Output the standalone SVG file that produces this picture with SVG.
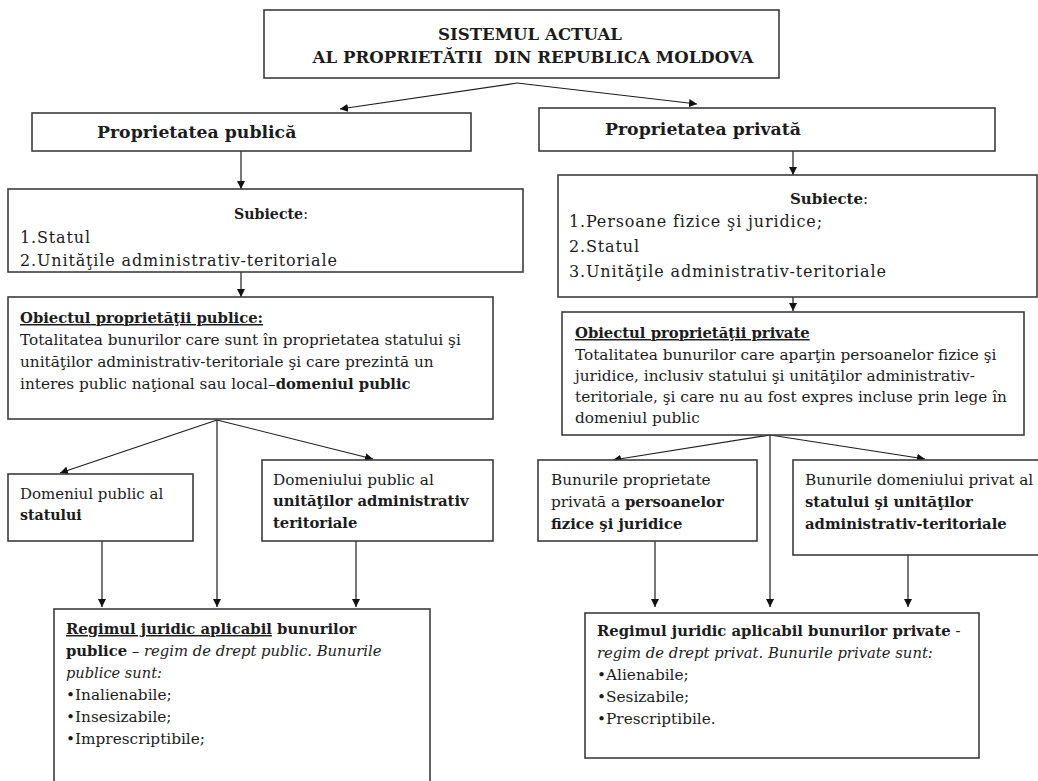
<svg xmlns="http://www.w3.org/2000/svg" width="1038" height="781" viewBox="0 0 1038 781">
  <defs>
    <marker id="ah" viewBox="0 0 10 10" refX="10" refY="5" markerWidth="8" markerHeight="8" markerUnits="userSpaceOnUse" orient="auto">
      <path d="M0,0 L10,5 L0,10 Z" fill="#111"/>
    </marker>
    <style>
      .box{fill:#fff;stroke:#3c3c3c;stroke-width:1.6}
      .t{font-family:"DejaVu Serif","Liberation Serif",serif;font-size:15.3px;fill:#1c1c1c}
      .title{font-size:16.6px;font-weight:bold}
      .h{font-size:17.3px;font-weight:bold}
      .sub{font-size:16px;letter-spacing:0.85px}
      .b{font-weight:bold}
      .bh{font-weight:bold;font-size:14.8px}
      .bs{font-weight:bold;font-size:14.8px}
      .i{font-style:italic}
      .u{text-decoration:underline}
      .c{stroke:#1e1e1e;stroke-width:1.2;fill:none;marker-end:url(#ah)}
    </style>
  </defs>
  <rect width="1038" height="781" fill="#fff"/>

  <!-- connectors -->
  <g id="connectors">
    <line class="c" x1="517" y1="83" x2="340" y2="109"/>
    <line class="c" x1="517" y1="83" x2="697" y2="104"/>
    <line class="c" x1="241" y1="151" x2="241" y2="189"/>
    <line class="c" x1="241" y1="259" x2="241" y2="297"/>
    <line class="c" x1="217" y1="420" x2="60" y2="473"/>
    <line class="c" x1="217" y1="420" x2="217" y2="607"/>
    <line class="c" x1="217" y1="420" x2="373" y2="459"/>
    <line class="c" x1="102" y1="541" x2="102" y2="607"/>
    <line class="c" x1="356" y1="541" x2="356" y2="607"/>
    <line class="c" x1="793" y1="151" x2="793" y2="175"/>
    <line class="c" x1="793" y1="273" x2="793" y2="311"/>
    <line class="c" x1="770" y1="435" x2="613" y2="460"/>
    <line class="c" x1="770" y1="435" x2="770" y2="607"/>
    <line class="c" x1="770" y1="435" x2="925" y2="459"/>
    <line class="c" x1="655" y1="541" x2="655" y2="607"/>
    <line class="c" x1="908" y1="555" x2="908" y2="607"/>
  </g>

  <!-- title -->
  <g id="sistem">
    <rect class="box" x="264" y="10" width="515" height="68"/>
    <text class="t title" x="530" y="40" text-anchor="middle">SISTEMUL ACTUAL</text>
    <text class="t title" x="533" y="63" text-anchor="middle">AL PROPRIETĂTII&#160; DIN REPUBLICA MOLDOVA</text>
  </g>

  <g id="publica">
    <rect class="box" x="32" y="113" width="439" height="38"/>
    <text class="t h" x="97" y="138">Proprietatea publică</text>
  </g>

  <g id="privata">
    <rect class="box" x="539" y="108" width="456" height="43"/>
    <text class="t h" x="605" y="135">Proprietatea privată</text>
  </g>

  <g id="subiecte-publice">
    <rect class="box" x="8" y="189" width="515" height="83"/>
    <text class="t" x="234" y="219" style="font-size:14.2px"><tspan class="b">Subiecte</tspan>:</text>
    <text class="t sub" x="20" y="243">1.Statul</text>
    <text class="t sub" x="20" y="266">2.Unităţile administrativ-teritoriale</text>
  </g>

  <g id="subiecte-private">
    <rect class="box" x="558" y="175" width="479" height="122"/>
    <text class="t" x="790" y="204" style="font-size:15px"><tspan class="b">Subiecte</tspan>:</text>
    <text class="t sub" x="569" y="227">1.Persoane fizice şi juridice;</text>
    <text class="t sub" x="569" y="252">2.Statul</text>
    <text class="t sub" x="569" y="277">3.Unităţile administrativ-teritoriale</text>
  </g>

  <g id="obiect-public">
    <rect class="box" x="8" y="297" width="485" height="122"/>
    <text class="t bh u" x="20" y="323">Obiectul proprietăţii publice:</text>
    <text class="t" x="20" y="345">Totalitatea bunurilor care sunt în proprietatea statului şi</text>
    <text class="t" x="20" y="367">unităţilor administrativ-teritoriale şi care prezintă un</text>
    <text class="t" x="20" y="389">interes public naţional sau local–<tspan class="b" style="font-size:14.8px">domeniul public</tspan></text>
  </g>

  <g id="obiect-privat">
    <rect class="box" x="562" y="312" width="462" height="123"/>
    <text class="t bh u" x="575" y="338">Obiectul proprietăţii private</text>
    <text class="t" x="575" y="360">Totalitatea bunurilor care aparţin persoanelor fizice şi</text>
    <text class="t" x="575" y="381">juridice, inclusiv statului şi unităţilor administrativ-</text>
    <text class="t" x="575" y="402">teritoriale, şi care nu au fost expres incluse prin lege în</text>
    <text class="t" x="575" y="423">domeniul public</text>
  </g>

  <g id="domeniu-stat">
    <rect class="box" x="8" y="474" width="185" height="67"/>
    <text class="t" x="20" y="499" style="font-size:15px">Domeniul public al</text>
    <text class="t b" x="20" y="520" style="font-size:14.2px">statului</text>
  </g>

  <g id="domeniu-uat">
    <rect class="box" x="262" y="460" width="231" height="81"/>
    <text class="t" x="273" y="485">Domeniului public al</text>
    <text class="t bs" x="273" y="506">unităţilor administrativ</text>
    <text class="t bs" x="273" y="528">teritoriale</text>
  </g>

  <g id="bunuri-persoane">
    <rect class="box" x="538" y="460" width="219" height="81"/>
    <text class="t" x="551" y="485">Bunurile proprietate</text>
    <text class="t" x="551" y="507">privată a <tspan class="bs">persoanelor</tspan></text>
    <text class="t bs" x="551" y="529">fizice şi juridice</text>
  </g>

  <g id="bunuri-domeniu-privat">
    <rect class="box" x="793" y="460" width="250" height="95"/>
    <text class="t" x="805" y="485">Bunurile domeniului privat al</text>
    <text class="t bs" x="805" y="507">statului şi unităţilor</text>
    <text class="t bs" x="805" y="529">administrativ-teritoriale</text>
  </g>

  <g id="regim-public">
    <rect class="box" x="54" y="609" width="376" height="200"/>
    <text class="t bs" x="66" y="634"><tspan class="u">Regimul juridic aplicabil</tspan> bunurilor</text>
    <text class="t" x="66" y="656" style="font-size:14.8px"><tspan class="b">publice</tspan> – <tspan class="i">regim de drept public. Bunurile</tspan></text>
    <text class="t i" x="66" y="678" style="font-size:14.6px">publice sunt:</text>
    <text class="t" x="66" y="700">•Inalienabile;</text>
    <text class="t" x="66" y="722">•Insesizabile;</text>
    <text class="t" x="66" y="744">•Imprescriptibile;</text>
  </g>

  <g id="regim-privat">
    <rect class="box" x="585" y="613" width="394" height="145"/>
    <text class="t" x="597" y="636" style="font-size:14.8px"><tspan class="b">Regimul juridic aplicabil bunurilor private</tspan> -</text>
    <text class="t i" x="597" y="658" style="font-size:14.8px">regim de drept privat. Bunurile private sunt:</text>
    <text class="t" x="597" y="680">•Alienabile;</text>
    <text class="t" x="597" y="702">•Sesizabile;</text>
    <text class="t" x="597" y="724">•Prescriptibile.</text>
  </g>
</svg>
